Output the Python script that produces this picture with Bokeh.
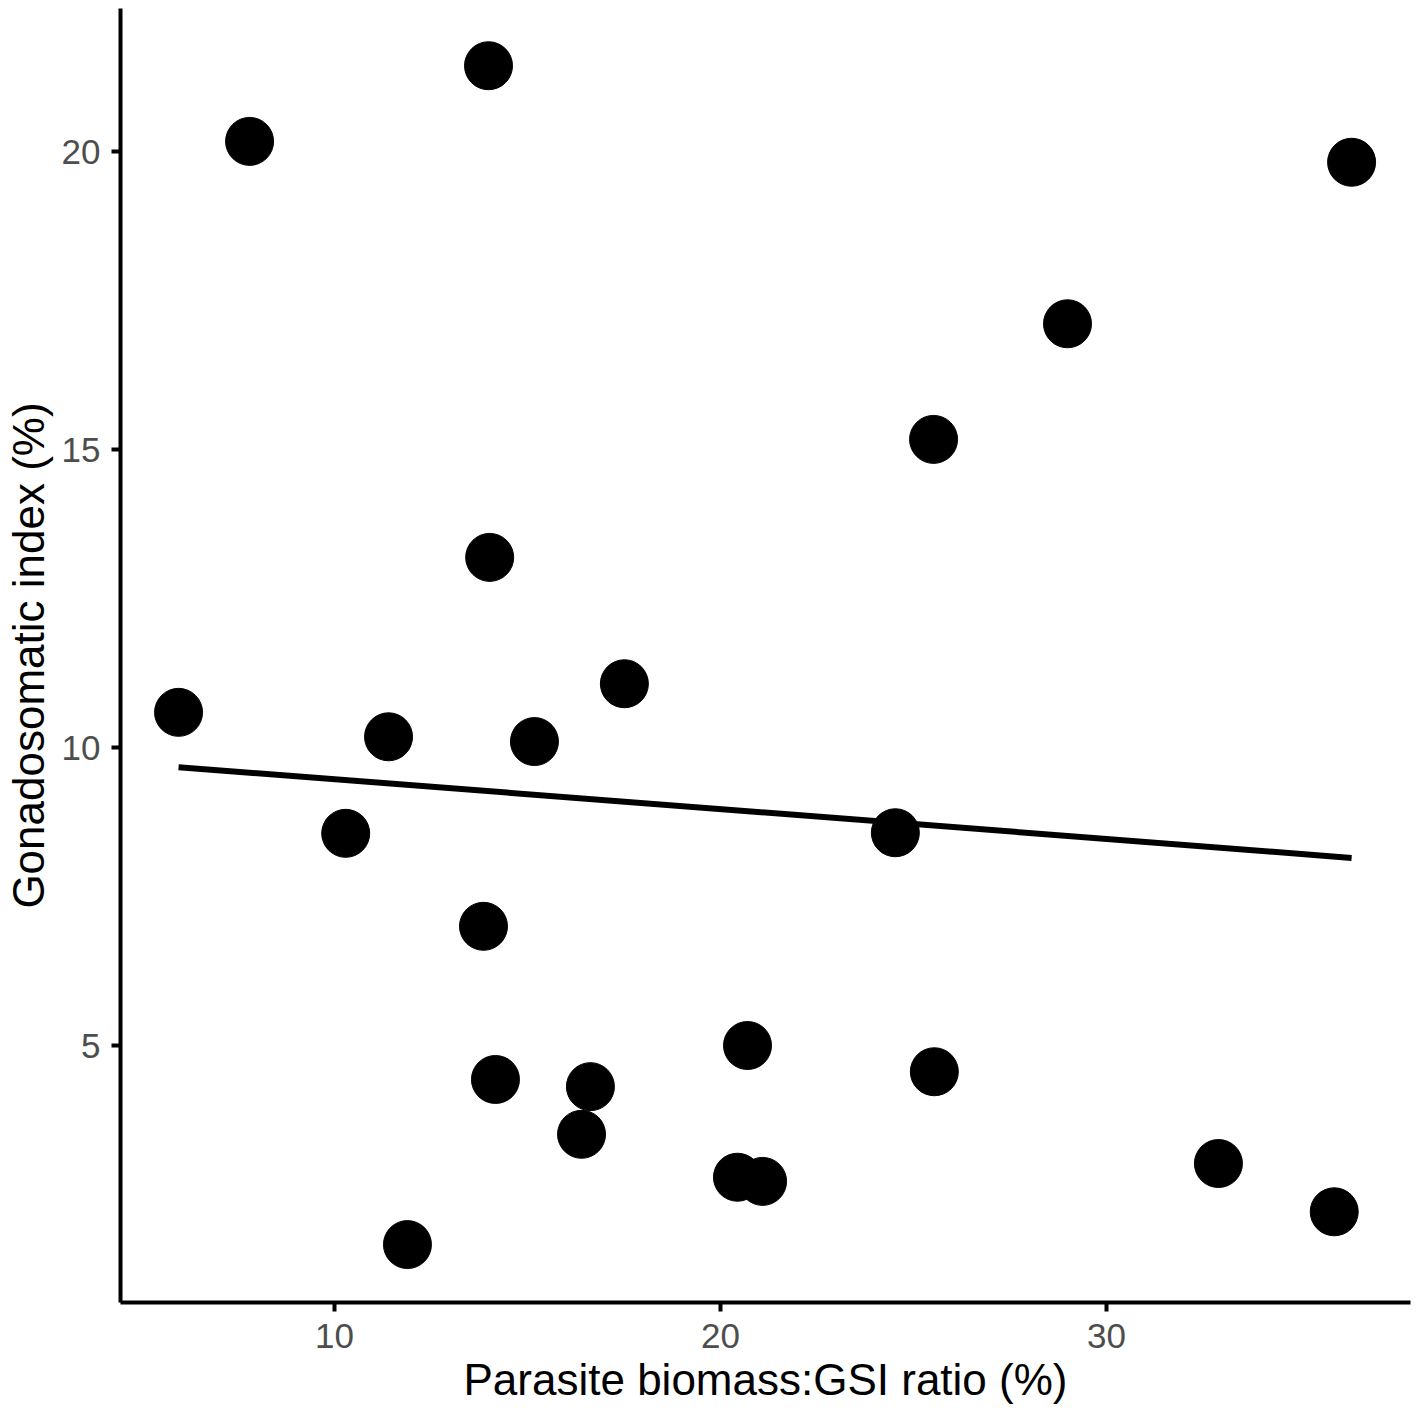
import numpy as np
from bokeh.plotting import figure
from bokeh.models import Range1d, FixedTicker
from bokeh.embed import file_html
from bokeh.resources import INLINE

# Data
ratio = [13.99, 7.80, 36.35, 28.99, 25.52, 14.02, 17.51, 5.96, 11.40, 15.18,
         10.29, 24.53, 13.86, 20.70, 25.54, 14.17, 16.63, 16.40, 20.44, 21.09,
         32.90, 35.90, 11.89]
gsi = [21.44, 20.17, 19.82, 17.11, 15.17, 13.19, 11.07, 10.59, 10.18, 10.10,
       8.56, 8.57, 7.00, 5.00, 4.56, 4.43, 4.31, 3.51, 2.79, 2.72,
       3.02, 2.21, 1.66]
x_ticks = [10, 20, 30]
y_ticks = [5, 10, 15, 20]

# Linear fit across the data range (geom_smooth lm style)
slope, intercept = np.polyfit(ratio, gsi, 1)
fit_x = [min(ratio), max(ratio)]
fit_y = [intercept + slope * v for v in fit_x]

FONT = "Liberation Sans"

p = figure(frame_width=1290, frame_height=1294, output_backend="svg",
           toolbar_location=None,
           x_range=Range1d(4.456, 37.876), y_range=Range1d(0.688, 22.40),
           min_border_left=116, min_border_right=2, min_border_top=8,
           min_border_bottom=116)

p.outline_line_color = None
p.background_fill_color = "white"
p.border_fill_color = "white"
p.xgrid.visible = False
p.ygrid.visible = False

p.line(fit_x, fit_y, line_color="black", line_width=6)
p.scatter(ratio, gsi, size=48, fill_color="black", line_color="black")

for ax, ticks in ((p.xaxis[0], x_ticks), (p.yaxis[0], y_ticks)):
    ax.ticker = FixedTicker(ticks=ticks)
    ax.axis_line_width = 4
    ax.axis_line_color = "black"
    ax.major_tick_line_color = "black"
    ax.major_tick_line_width = 4
    ax.major_tick_out = 9
    ax.major_tick_in = 0
    ax.minor_tick_line_color = None
    ax.major_label_text_font = FONT
    ax.major_label_text_font_size = "35px"
    ax.major_label_text_color = "#4D4D4D"
    ax.axis_label_text_font = FONT
    ax.axis_label_text_font_size = "44px"
    ax.axis_label_text_font_style = "normal"
    ax.axis_label_text_color = "black"

p.xaxis.axis_label = "Parasite biomass:GSI ratio (%)"
p.yaxis.axis_label = "Gonadosomatic index (%)"
p.xaxis.major_label_standoff = 12
p.yaxis.major_label_standoff = 11
p.xaxis.axis_label_standoff = 4
p.yaxis.axis_label_standoff = 6

open("out.html", "w").write(file_html(p, INLINE))
